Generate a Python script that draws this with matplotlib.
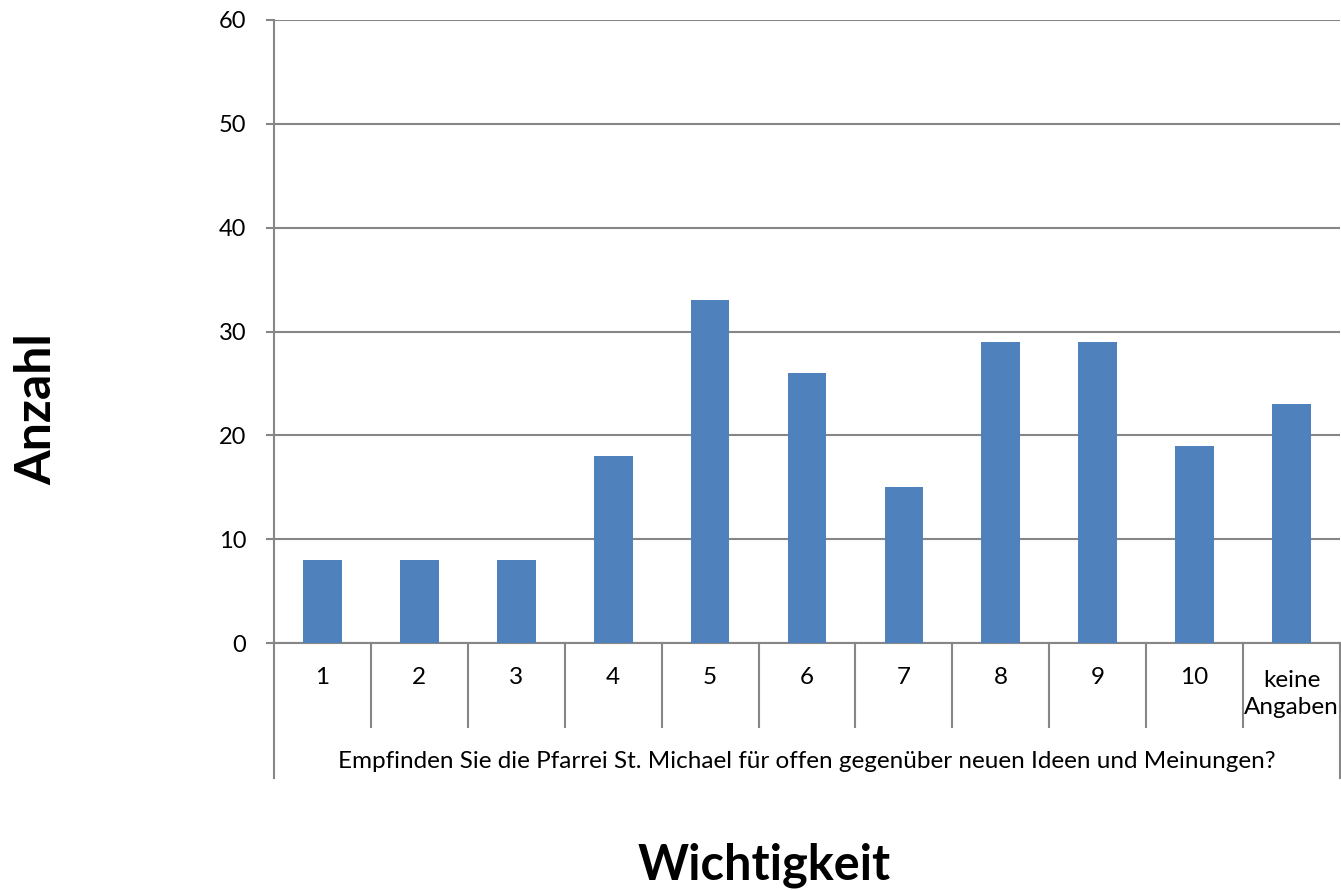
import matplotlib.pyplot as plt
import matplotlib.transforms as mtransforms

plt.rcParams['font.family'] = ['Lato', 'DejaVu Sans']

categories = ['1', '2', '3', '4', '5', '6', '7', '8', '9', '10', 'keine\nAngaben']
values = [8, 8, 8, 18, 33, 26, 15, 29, 29, 19, 23]
question = 'Empfinden Sie die Pfarrei St. Michael für offen gegenüber neuen Ideen und Meinungen?'
y_ticks = [0, 10, 20, 30, 40, 50, 60]

grey = '#868686'

fig = plt.figure(figsize=(13.41, 8.90), dpi=100)
ax = fig.add_axes([274 / 1341, 1 - 643 / 890, 1066 / 1341, 623 / 890])

x = list(range(len(categories)))
ax.bar(x, values, width=0.4, color='#4F81BD', zorder=3)

ax.set_xlim(-0.5, len(categories) - 0.5)
ax.set_ylim(0, 60)
ax.set_yticks(y_ticks)
ax.yaxis.grid(True, color=grey, linewidth=1.5, zorder=0)
ax.tick_params(axis='y', direction='out', length=6, width=1.5, color=grey,
               labelsize=17, pad=14)
ax.set_xticks([])

for side in ['top', 'right']:
    ax.spines[side].set_visible(False)
ax.spines['left'].set_color(grey)
ax.spines['left'].set_linewidth(1.5)
ax.spines['bottom'].set_color(grey)
ax.spines['bottom'].set_linewidth(1.5)

trans = mtransforms.blended_transform_factory(ax.transData, ax.transAxes)

# Unterteilungen der Kategorien
for k in range(1, len(categories)):
    ax.plot([k - 0.5, k - 0.5], [0, -0.135], color=grey, lw=1.5,
            transform=trans, clip_on=False)
for xe in [-0.5, len(categories) - 0.5]:
    ax.plot([xe, xe], [0, -0.217], color=grey, lw=1.5,
            transform=trans, clip_on=False)

for i, c in enumerate(categories):
    if '\n' in c:
        ax.text(i, -0.082, c, transform=trans, ha='center', va='center',
                fontsize=17.5, linespacing=1.4)
    else:
        ax.text(i, -0.056, c, transform=trans, ha='center', va='center',
                fontsize=17.5)

ax.text(5, -0.191, question, transform=trans, ha='center', va='center',
        fontsize=17.5)

fig.text(37 / 1341, 1 - 409 / 890, 'Anzahl', rotation=90, ha='center',
         va='center', fontsize=36, fontweight='bold')
fig.text(764 / 1341, 1 - 865 / 890, 'Wichtigkeit', ha='center', va='center',
         fontsize=35, fontweight='bold')

fig.savefig('out.png', dpi=100)
